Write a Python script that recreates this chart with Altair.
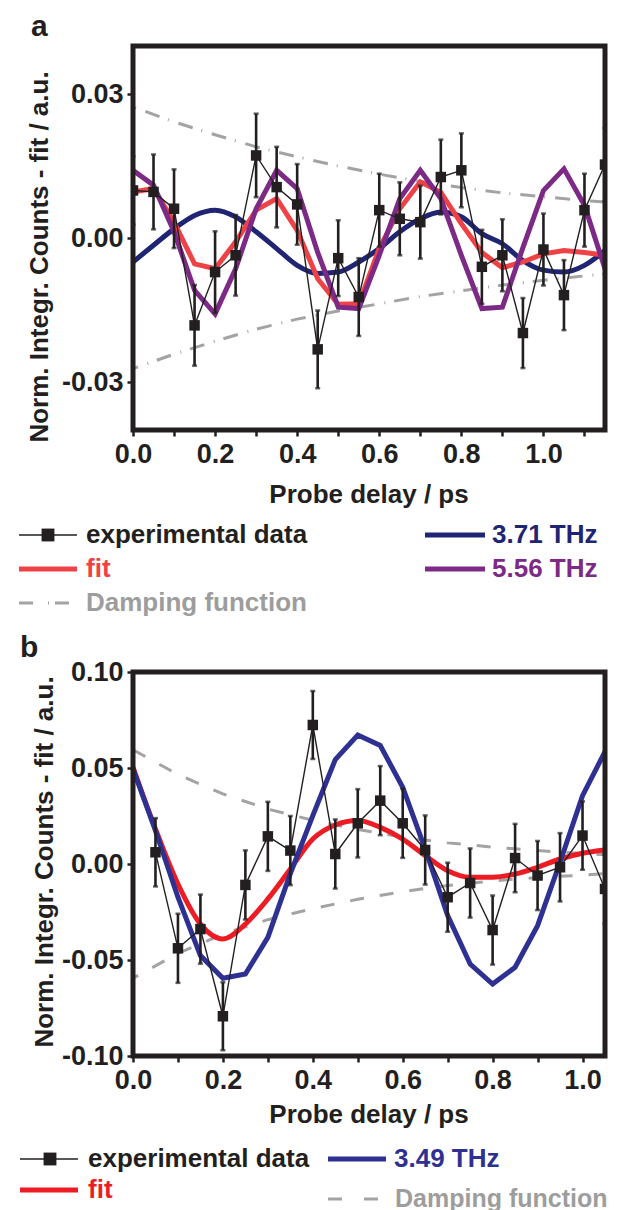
import altair as alt
import pandas as pd

# ---------------- panel a data ----------------
xa = [0.00, 0.05, 0.10, 0.15, 0.20, 0.25, 0.30, 0.35, 0.40, 0.45, 0.50, 0.55,
      0.60, 0.65, 0.70, 0.75, 0.80, 0.85, 0.90, 0.95, 1.00, 1.05, 1.10, 1.15]
exp_a = [0.0099, 0.0096, 0.0061, -0.0182, -0.0071, -0.0036, 0.0172, 0.0106,
         0.0070, -0.0232, -0.0042, -0.0123, 0.0058, 0.0040, 0.0033, 0.0127,
         0.0141, -0.0060, -0.0036, -0.0198, -0.0024, -0.0119, 0.0058, 0.0153]
err_a = [0.0071, 0.0078, 0.0082, 0.0084, 0.0085, 0.0084, 0.0087, 0.0084,
         0.0084, 0.0081, 0.0079, 0.0081, 0.0076, 0.0076, 0.0076, 0.0078,
         0.0077, 0.0077, 0.0075, 0.0073, 0.0075, 0.0073, 0.0076, 0.0076]
fit_a = [0.0096, 0.0103, 0.0033, -0.0054, -0.0064, -0.0008, 0.0058, 0.0082,
         0.0016, -0.0085, -0.0138, -0.0137, -0.0022, 0.0061, 0.0117, 0.0095,
         0.0030, -0.0030, -0.0062, -0.0050, -0.0033, -0.0026, -0.0030, -0.0036]
thz371_a = [-0.0050, -0.0015, 0.0019, 0.0047, 0.0058, 0.0044, 0.0013, -0.0022,
            -0.0057, -0.0074, -0.0071, -0.0050, -0.0022, 0.0013, 0.0040, 0.0054,
            0.0044, 0.0009, -0.0012, -0.0047, -0.0067, -0.0071, -0.0057, -0.0026]
thz556_a = [0.0141, 0.0110, 0.0013, -0.0109, -0.0158, -0.0064, 0.0061, 0.0141,
            0.0103, -0.0030, -0.0144, -0.0147, -0.0036, 0.0082, 0.0141, 0.0082,
            -0.0036, -0.0147, -0.0144, -0.0020, 0.0099, 0.0144, 0.0068, -0.0064]
damp_x_a = [0.0, 0.1, 0.2, 0.3, 0.4, 0.5, 0.6, 0.7, 0.8, 0.9, 1.0, 1.1, 1.15]
damp_up_a = [0.0273, 0.0242, 0.0215, 0.0190, 0.0169, 0.0150, 0.0133, 0.0118,
             0.0105, 0.0094, 0.0086, 0.0078, 0.0075]
damp_lo_a = [-0.0272, -0.0242, -0.0215, -0.0190, -0.0169, -0.0152, -0.0137,
             -0.0122, -0.0110, -0.0098, -0.0088, -0.0079, -0.0075]
labels_a = ["experimental data", "fit", "Damping function", "3.71 THz", "5.56 THz"]

# ---------------- panel b data ----------------
xb_exp = [0.05, 0.10, 0.15, 0.20, 0.25, 0.30, 0.35, 0.40, 0.45, 0.50, 0.55,
          0.60, 0.65, 0.70, 0.75, 0.80, 0.85, 0.90, 0.95, 1.00, 1.05]
exp_b = [0.0061, -0.0439, -0.0339, -0.0793, -0.0109, 0.0144, 0.0070, 0.0724,
         0.0052, 0.0212, 0.0330, 0.0212, 0.0073, -0.0173, -0.0099, -0.0344,
         0.0031, -0.0060, -0.0017, 0.0148, -0.0130]
err_b = [0.0178, 0.0180, 0.0180, 0.0177, 0.0180, 0.0180, 0.0180, 0.0177,
         0.0180, 0.0178, 0.0180, 0.0180, 0.0180, 0.0180, 0.0180, 0.0180,
         0.0178, 0.0180, 0.0178, 0.0178, 0.0180]
xb = [0.00, 0.05, 0.10, 0.15, 0.20, 0.25, 0.30, 0.35, 0.40, 0.45, 0.50, 0.55,
      0.60, 0.65, 0.70, 0.75, 0.80, 0.85, 0.90, 0.95, 1.00, 1.05]
fit_b = [0.0504, 0.0182, -0.0104, -0.0313, -0.0390, -0.0313, -0.0182, -0.0026,
         0.0130, 0.0203, 0.0226, 0.0191, 0.0130, 0.0044, -0.0035, -0.0069,
         -0.0069, -0.0052, -0.0017, 0.0026, 0.0056, 0.0073]
thz349_b = [0.0495, 0.0174, -0.0173, -0.0477, -0.0595, -0.0573, -0.0382, -0.0050,
            0.0252, 0.0544, 0.0672, 0.0617, 0.0400, 0.0078, -0.0269, -0.0521,
            -0.0625, -0.0538, -0.0321, 0.0009, 0.0356, 0.0585]
damp_x_b = [0.0, 0.1, 0.2, 0.3, 0.4, 0.5, 0.6, 0.7, 0.8, 0.9, 1.0, 1.05]
damp_up_b = [0.0595, 0.0466, 0.0365, 0.0286, 0.0228, 0.0180, 0.0140, 0.0110,
             0.0088, 0.0070, 0.0055, 0.0048]
damp_lo_b = [-0.0595, -0.0466, -0.0365, -0.0290, -0.0232, -0.0184, -0.0144,
             -0.0112, -0.0088, -0.0070, -0.0058, -0.0050]
labels_b = ["experimental data", "fit", "3.49 THz", "Damping function"]

x_title = "Probe delay / ps"
y_title = "Norm. Integr. Counts - fit / a.u."

# ---------------- style ----------------
FONT = "Liberation Sans, Arial, Helvetica, sans-serif"
DARK = "#231f20"
RED_A = "#ef4246"
RED_B = "#ed1c24"
BLUE_A = "#1f2473"
BLUE_B = "#2e3192"
PURPLE = "#7c2a85"
GRAY = "#a3a3a3"
GRAY_T = "#9d9d9d"
W, H = 472, 384
FS = 26
TFS = 27


def x_axis(vals):
    return alt.Axis(values=vals, title=None, grid=False, domain=False,
                    tickSize=6, tickWidth=2.5, tickColor=DARK,
                    labelExpr="round(datum.value*10) % 2 == 0 ? format(datum.value, '.1f') : ''",
                    labelFont=FONT, labelFontSize=TFS, labelFontWeight="bold",
                    labelColor=DARK, labelPadding=5, labelFlush=False,
                    labelOverlap=False)


def y_axis(vals):
    return alt.Axis(values=vals, title=None, grid=False, domain=False,
                    tickSize=6, tickWidth=2.5, tickColor=DARK,
                    labelExpr="(datum.value < 0 ? '-' : '') + format(abs(datum.value), '.2f')",
                    labelFont=FONT, labelFontSize=TFS, labelFontWeight="bold",
                    labelColor=DARK, labelPadding=4, labelFlush=False,
                    labelOverlap=False)


def one(txt):
    return pd.DataFrame({"t": [txt]})


def hline(x1, x2, y, color, sw, dash=None):
    kw = dict(color=color, strokeWidth=sw)
    if dash is not None:
        kw["strokeDash"] = dash
    return alt.Chart(one("")).mark_rule(**kw).encode(
        x=alt.value(x1), x2=alt.value(x2), y=alt.value(y))


def text(txt, x, y, color, size=FS, align="left", angle=None, baseline="middle"):
    kw = dict(font=FONT, fontSize=size, fontWeight="bold", color=color,
              align=align, baseline=baseline)
    if angle is not None:
        kw["angle"] = angle
    return alt.Chart(one(txt)).mark_text(**kw).encode(
        x=alt.value(x), y=alt.value(y), text="t:N")


def anchor(x1, x2, y):
    return alt.Chart(one("")).mark_rule(strokeOpacity=0, strokeWidth=0.5).encode(
        x=alt.value(x1), x2=alt.value(x2), y=alt.value(y))


def frame():
    return alt.Chart(one("")).mark_rect(fillOpacity=0, stroke=DARK, strokeWidth=5).encode(
        x=alt.value(0), x2=alt.value(W), y=alt.value(0), y2=alt.value(H))


def panel(xs, ys, xax, yax, curves, damp_df, damp_dash, exp_df):
    X = lambda f: alt.X(f, type="quantitative", scale=xs, axis=xax)
    Y = lambda f: alt.Y(f, type="quantitative", scale=ys, axis=yax)
    layers = []
    layers.append(alt.Chart(damp_df).mark_line(color=GRAY, strokeWidth=3,
                                               strokeDash=damp_dash, clip=True)
                  .encode(x=X("x"), y=Y("y"), order="o:Q"))
    for df, col, interp in curves:
        layers.append(alt.Chart(df).mark_line(color=col, strokeWidth=5,
                                              interpolate=interp, clip=True,
                                              strokeJoin="miter")
                      .encode(x=X("x"), y=Y("y")))
    layers.append(alt.Chart(exp_df).mark_line(color=DARK, strokeWidth=1.4, clip=True)
                  .encode(x=X("x"), y=Y("y")))
    layers.append(alt.Chart(exp_df).mark_rule(color=DARK, strokeWidth=2.6, clip=True)
                  .encode(x=X("x"), y=Y("lo"), y2=alt.Y2("hi")))
    layers.append(alt.Chart(exp_df).mark_tick(color=DARK, orient="horizontal",
                                              size=5, thickness=2.5, clip=True)
                  .encode(x=X("x"), y=Y("lo")))
    layers.append(alt.Chart(exp_df).mark_tick(color=DARK, orient="horizontal",
                                              size=5, thickness=2.5, clip=True)
                  .encode(x=X("x"), y=Y("hi")))
    layers.append(alt.Chart(exp_df).mark_square(color=DARK, size=110, opacity=1,
                                                clip=True)
                  .encode(x=X("x"), y=Y("y")))
    layers.append(frame())
    return layers


# ---------------- panel a ----------------
xs_a = alt.Scale(domain=[0, 1.15], nice=False, zero=False)
ys_a = alt.Scale(domain=[-0.04, 0.04], nice=False, zero=False)
xax_a = x_axis([round(0.1 * i, 1) for i in range(12)])
yax_a = y_axis([-0.03, 0.0, 0.03])

exp_a_df = pd.DataFrame({"x": xa, "y": exp_a})
exp_a_df["lo"] = exp_a_df["y"] - pd.Series(err_a)
exp_a_df["hi"] = exp_a_df["y"] + pd.Series(err_a)
na = len(damp_x_a)
damp_a_df = pd.DataFrame({"x": damp_x_a[::-1] + damp_x_a,
                          "y": damp_up_a[::-1] + damp_lo_a,
                          "o": list(range(2 * na))})
curves_a = [
    (pd.DataFrame({"x": xa, "y": thz371_a}), BLUE_A, "monotone"),
    (pd.DataFrame({"x": xa, "y": fit_a}), RED_A, "linear"),
    (pd.DataFrame({"x": xa, "y": thz556_a}), PURPLE, "linear"),
]
layers_a = panel(xs_a, ys_a, xax_a, yax_a, curves_a, damp_a_df, [15, 10, 1, 9], exp_a_df)
layers_a += [
    text("a", -102, -10, DARK, size=30, baseline="alphabetic"),
    text(x_title, W / 2, 449, DARK, align="center"),
    text(y_title, -93, 211, DARK, align="center", angle=270),
    # legend
    hline(-114, -56, 489, DARK, 1.4),
    alt.Chart(one("")).mark_square(color=DARK, size=165, opacity=1).encode(
        x=alt.value(-85), y=alt.value(489)),
    text(labels_a[0], -47, 489, DARK),
    hline(-114, -56, 523, RED_A, 5),
    text(labels_a[1], -47, 523, RED_A),
    hline(-114, -64, 557, GRAY, 3, [14, 15, 1, 6]),
    text(labels_a[2], -47, 557, GRAY_T),
    hline(292, 352, 489, BLUE_A, 5),
    text(labels_a[3], 359, 489, BLUE_A),
    hline(292, 352, 523, PURPLE, 5),
    text(labels_a[4], 359, 523, PURPLE),
    anchor(-118, -117, 100),
    anchor(0, 1, -38),
    anchor(0, 1, 578),
]
pa = alt.layer(*layers_a).properties(width=W, height=H)

# ---------------- panel b ----------------
xs_b = alt.Scale(domain=[0, 1.05], nice=False, zero=False)
ys_b = alt.Scale(domain=[-0.1, 0.1], nice=False, zero=False)
xax_b = x_axis([round(0.1 * i, 1) for i in range(11)])
yax_b = y_axis([-0.1, -0.05, 0.0, 0.05, 0.1])

exp_b_df = pd.DataFrame({"x": xb_exp, "y": exp_b})
exp_b_df["lo"] = exp_b_df["y"] - pd.Series(err_b)
exp_b_df["hi"] = exp_b_df["y"] + pd.Series(err_b)
nb = len(damp_x_b)
damp_b_df = pd.DataFrame({"x": damp_x_b + damp_x_b[::-1],
                          "y": damp_up_b + damp_lo_b[::-1],
                          "o": list(range(2 * nb))})
curves_b = [
    (pd.DataFrame({"x": xb, "y": fit_b}), RED_B, "monotone"),
    (pd.DataFrame({"x": xb, "y": thz349_b}), BLUE_B, "linear"),
]
layers_b = panel(xs_b, ys_b, xax_b, yax_b, curves_b, damp_b_df, [14, 16], exp_b_df)
layers_b += [
    text("b", -113, -15, DARK, size=30, baseline="alphabetic"),
    text(x_title, W / 2, 443, DARK, align="center"),
    text(y_title, -88, 190, DARK, align="center", angle=270),
    hline(-113, -55, 487, DARK, 1.4),
    alt.Chart(one("")).mark_square(color=DARK, size=165, opacity=1).encode(
        x=alt.value(-83), y=alt.value(487)),
    text(labels_b[0], -45, 487, DARK),
    hline(-113, -55, 518, RED_B, 5),
    text(labels_b[1], -45, 518, RED_B),
    hline(195, 253, 487, BLUE_B, 5),
    text(labels_b[2], 261, 487, BLUE_B),
    hline(195, 245, 527, GRAY, 3, [14, 22]),
    text(labels_b[3], 262, 527, GRAY_T, size=25),
    anchor(-125, -124, 100),
    anchor(0, 1, -48),
]
pb = alt.layer(*layers_b).properties(width=W, height=H)

chart = alt.vconcat(pa, pb, spacing=0, padding=0).configure_view(stroke=None)
chart.save("out.html", embed_options={"renderer": "svg", "actions": False})
